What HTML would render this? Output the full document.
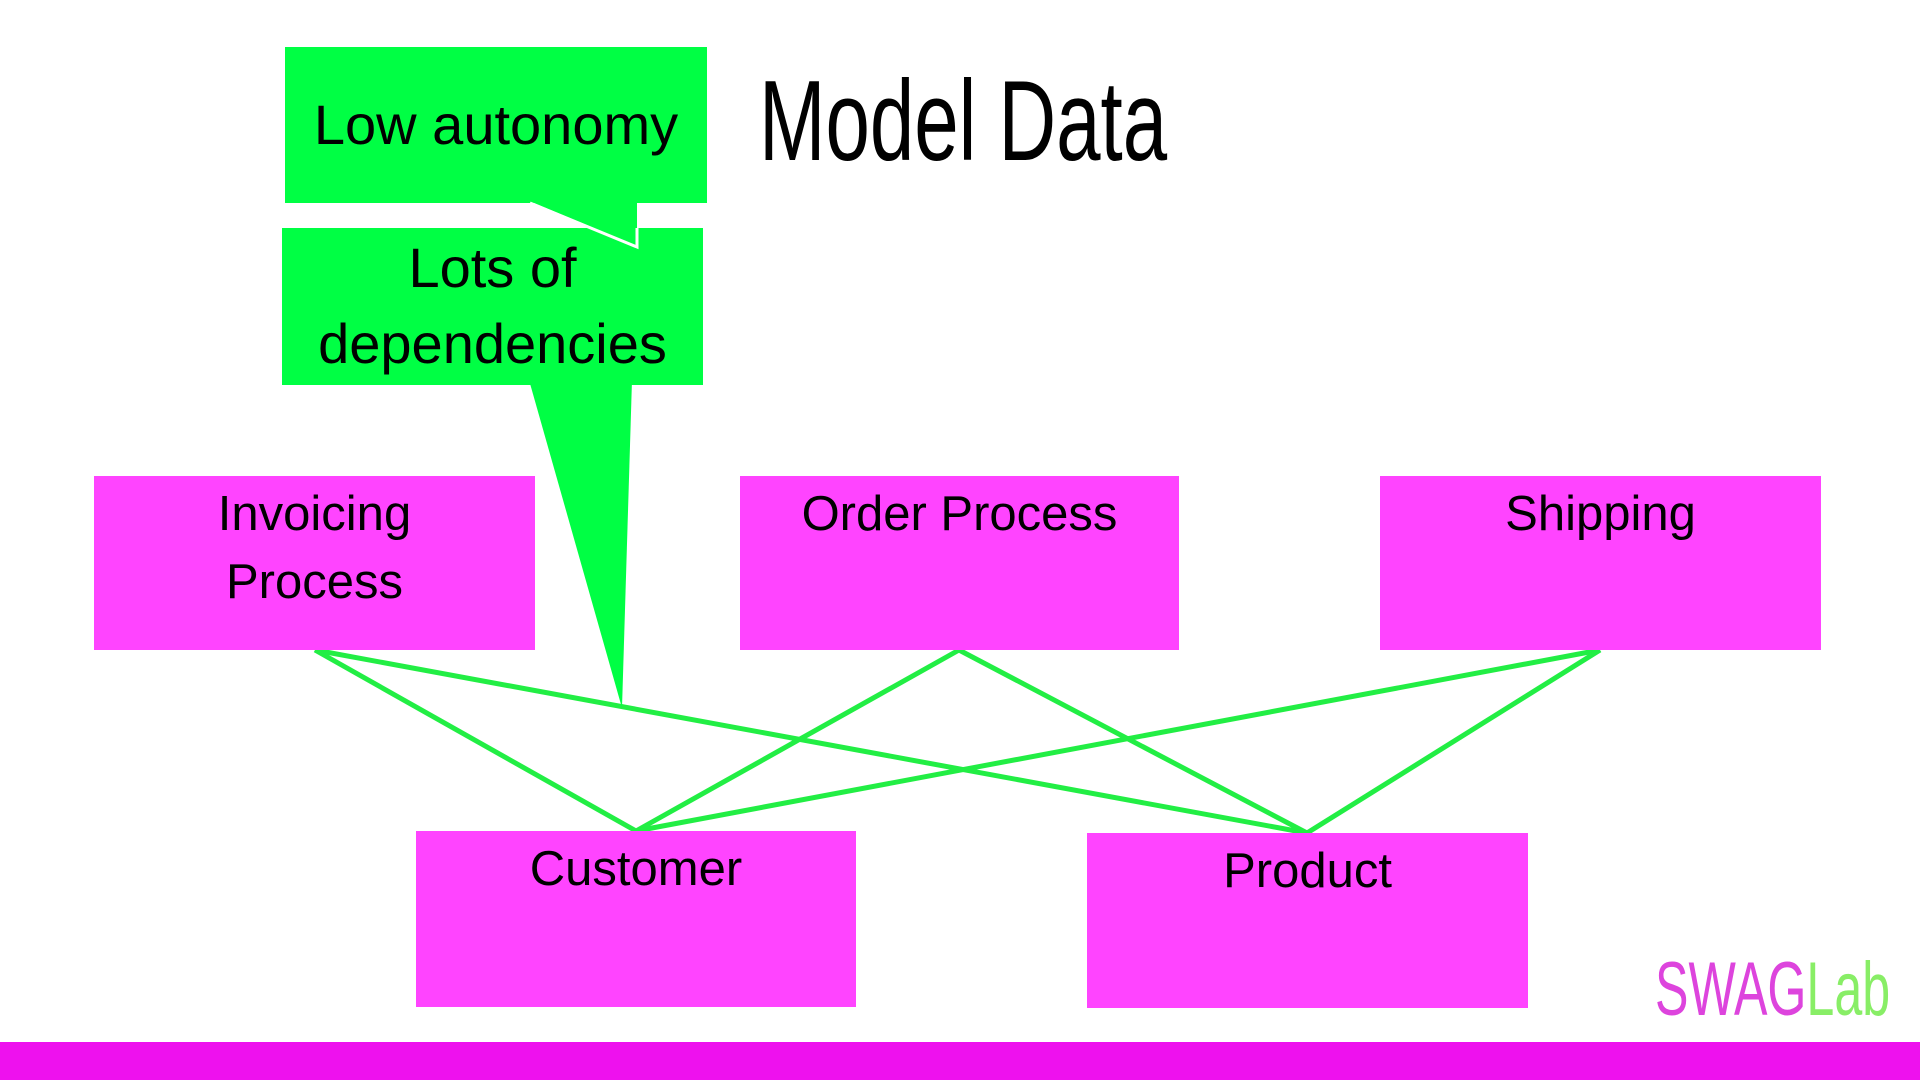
<!DOCTYPE html>
<html><head><meta charset="utf-8"><style>
html,body{margin:0;padding:0;width:1920px;height:1080px;overflow:hidden;background:#fff;font-family:"Liberation Sans",sans-serif}
.b{position:absolute;background:#ff44ff;color:#000;text-align:center;font-size:49px;line-height:68px;box-sizing:border-box;padding-top:0;white-space:nowrap}
.g{position:absolute;background:#00ff44;color:#000;text-align:center;font-size:56px;white-space:nowrap}
</style></head><body>
<svg width="1920" height="1080" style="position:absolute;left:0;top:0">
<g stroke="#22ee44" stroke-width="5" fill="none">
<line x1="315" y1="650" x2="636" y2="831"/>
<line x1="315" y1="650" x2="1307" y2="833"/>
<line x1="959" y1="650" x2="636" y2="831"/>
<line x1="959" y1="650" x2="1307" y2="833"/>
<line x1="1600" y1="650" x2="636" y2="831"/>
<line x1="1600" y1="650" x2="1307" y2="833"/>
</g>
<polygon points="529,380 632,380 622,708" fill="#00ff44"/>
<rect x="0" y="1042" width="1920" height="38" fill="#ee11ee"/>
</svg>
<div class="g" style="left:285px;top:47px;width:422px;height:156px;line-height:156px">Low autonomy</div>
<div class="g" style="left:282px;top:228px;width:421px;height:157px;line-height:76px;padding-top:2px;box-sizing:border-box">Lots of<br>dependencies</div>
<svg width="1920" height="400" style="position:absolute;left:0;top:0">
<polygon points="527,200 637,246 637,200" fill="#00ff44"/>
<polyline points="530,203 637,247 637,228" fill="none" stroke="#fff" stroke-width="3"/>
</svg>
<div style="position:absolute;left:759px;top:65px;font-size:114px;line-height:114px;transform:scaleX(0.70);transform-origin:0 0;white-space:nowrap">Model Data</div>
<div class="b" style="left:94px;top:476px;width:441px;height:174px;padding-top:4px">Invoicing<br>Process</div>
<div class="b" style="left:740px;top:476px;width:439px;height:174px;padding-top:4px">Order Process</div>
<div class="b" style="left:1380px;top:476px;width:441px;height:174px;padding-top:4px">Shipping</div>
<div class="b" style="left:416px;top:831px;width:440px;height:176px;padding-top:4px">Customer</div>
<div class="b" style="left:1087px;top:833px;width:441px;height:175px;padding-top:4px">Product</div>
<div style="position:absolute;left:1655px;top:952px;font-size:76px;line-height:76px;transform:scaleX(0.66);transform-origin:0 0;white-space:nowrap"><span style="color:#dd44dd">SWAG</span><span style="color:#88ee66">Lab</span></div>
</body></html>
